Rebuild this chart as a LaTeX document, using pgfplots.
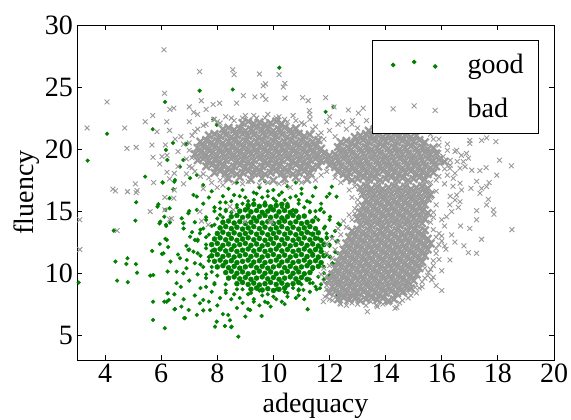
\documentclass[border=0pt]{standalone}
\usepackage{fontspec}
\setmainfont{Liberation Serif}
\usepackage{pgfplots}
\pgfplotsset{compat=1.18}
\definecolor{goodc}{RGB}{0,128,0}
\definecolor{badc}{RGB}{153,153,153}
\pgfplotsset{threemarks/.style={legend image code/.code={\draw[##1, only marks] plot coordinates {(0pt,0pt) (21pt,3pt) (42pt,-1.5pt)}; \path (-8pt,0pt) (71pt,0pt);}}}
\begin{document}
\begin{tikzpicture}
\begin{axis}[
  name=ax,
  scale only axis, width=477pt, height=335pt,
  xmin=3, xmax=20, ymin=3, ymax=30,
  xtick={4,6,...,20}, ytick={5,10,...,30},
  tick align=inside, major tick length=5pt,
  axis line style={line width=0.8pt},
  every tick/.style={black, line width=0.8pt},
  /pgf/number format/assume math mode=true,
  tick label style={font=\fontsize{28}{30}\selectfont},
  xticklabel style={anchor=base, yshift=-23pt},
  yticklabel style={anchor=east, inner xsep=0pt, xshift=-4pt},
  label style={font=\fontsize{28}{30}\selectfont},
  xlabel={adequacy}, ylabel={fluency},
  xlabel style={at={(axis description cs:0.5,-0.158)}, anchor=base},
  ylabel style={at={(axis description cs:-0.0922,0.5)}, anchor=base},
  legend style={at={(0.9686,0.955)}, anchor=north east, draw=black, line width=0.8pt,
    inner xsep=12pt, inner ysep=11pt, row sep=17pt,
    font=\fontsize{28}{30}\selectfont, nodes={inner sep=3pt}},
  legend cell align=left,
]
% good: dense core
\addplot[only marks, mark=*, mark size=2.5pt, color=goodc, forget plot] coordinates {
(9.2,8.7) (9.4,8.8) (9.6,8.64) (9.8,8.75) (10.0,8.6) (10.2,8.7) (10.4,8.8)
(8.7,9.15) (8.9,9.25) (9.1,9.09) (9.3,9.2) (9.5,9.05) (9.7,9.15) (9.9,9.25) (10.1,9.09) (10.3,9.2) (10.5,9.05) (10.7,9.15) (10.9,9.25)
(8.4,9.6) (8.6,9.7) (8.8,9.54) (9.0,9.65) (9.2,9.5) (9.4,9.6) (9.6,9.7) (9.8,9.54) (10.0,9.65) (10.2,9.5) (10.4,9.6) (10.6,9.7) (10.8,9.54) (11.0,9.65) (11.2,9.5)
(8.3,10.05) (8.5,10.15) (8.7,9.99) (8.9,10.1) (9.1,9.95) (9.3,10.05) (9.5,10.15) (9.7,9.99) (9.9,10.1) (10.1,9.95) (10.3,10.05) (10.5,10.15) (10.7,9.99) (10.9,10.1) (11.1,9.95) (11.3,10.05)
(8.0,10.5) (8.2,10.6) (8.4,10.44) (8.6,10.55) (8.8,10.4) (9.0,10.5) (9.2,10.6) (9.4,10.44) (9.6,10.55) (9.8,10.4) (10.0,10.5) (10.2,10.6) (10.4,10.44) (10.6,10.55) (10.8,10.4) (11.0,10.5) (11.2,10.6) (11.4,10.44) (11.6,10.55)
(7.9,10.95) (8.1,11.05) (8.3,10.89) (8.5,11.0) (8.7,10.85) (8.9,10.95) (9.1,11.05) (9.3,10.89) (9.5,11.0) (9.7,10.85) (9.9,10.95) (10.1,11.05) (10.3,10.89) (10.5,11.0) (10.7,10.85) (10.9,10.95) (11.1,11.05) (11.3,10.89) (11.5,11.0) (11.7,10.85)
(7.8,11.4) (8.0,11.5) (8.2,11.34) (8.4,11.45) (8.6,11.3) (8.8,11.4) (9.0,11.5) (9.2,11.34) (9.4,11.45) (9.6,11.3) (9.8,11.4) (10.0,11.5) (10.2,11.34) (10.4,11.45) (10.6,11.3) (10.8,11.4) (11.0,11.5) (11.2,11.34) (11.4,11.45) (11.6,11.3) (11.8,11.4)
(7.9,11.85) (8.1,11.95) (8.3,11.79) (8.5,11.9) (8.7,11.75) (8.9,11.85) (9.1,11.95) (9.3,11.79) (9.5,11.9) (9.7,11.75) (9.9,11.85) (10.1,11.95) (10.3,11.79) (10.5,11.9) (10.7,11.75) (10.9,11.85) (11.1,11.95) (11.3,11.79) (11.5,11.9) (11.7,11.75)
(7.8,12.3) (8.0,12.4) (8.2,12.24) (8.4,12.35) (8.6,12.2) (8.8,12.3) (9.0,12.4) (9.2,12.24) (9.4,12.35) (9.6,12.2) (9.8,12.3) (10.0,12.4) (10.2,12.24) (10.4,12.35) (10.6,12.2) (10.8,12.3) (11.0,12.4) (11.2,12.24) (11.4,12.35) (11.6,12.2) (11.8,12.3)
(7.9,12.75) (8.1,12.85) (8.3,12.69) (8.5,12.8) (8.7,12.65) (8.9,12.75) (9.1,12.85) (9.3,12.69) (9.5,12.8) (9.7,12.65) (9.9,12.75) (10.1,12.85) (10.3,12.69) (10.5,12.8) (10.7,12.65) (10.9,12.75) (11.1,12.85) (11.3,12.69) (11.5,12.8) (11.7,12.65)
(8.0,13.2) (8.2,13.3) (8.4,13.14) (8.6,13.25) (8.8,13.1) (9.0,13.2) (9.2,13.3) (9.4,13.14) (9.6,13.25) (9.8,13.1) (10.0,13.2) (10.2,13.3) (10.4,13.14) (10.6,13.25) (10.8,13.1) (11.0,13.2) (11.2,13.3) (11.4,13.14) (11.6,13.25)
(8.1,13.65) (8.3,13.75) (8.5,13.59) (8.7,13.7) (8.9,13.55) (9.1,13.65) (9.3,13.75) (9.5,13.59) (9.7,13.7) (9.9,13.55) (10.1,13.65) (10.3,13.75) (10.5,13.59) (10.7,13.7) (10.9,13.55) (11.1,13.65) (11.3,13.75) (11.5,13.59)
(8.2,14.1) (8.4,14.2) (8.6,14.04) (8.8,14.15) (9.0,14.0) (9.2,14.1) (9.4,14.2) (9.6,14.04) (9.8,14.15) (10.0,14.0) (10.2,14.1) (10.4,14.2) (10.6,14.04) (10.8,14.15) (11.0,14.0) (11.2,14.1) (11.4,14.2)
(8.5,14.55) (8.7,14.65) (8.9,14.49) (9.1,14.6) (9.3,14.45) (9.5,14.55) (9.7,14.65) (9.9,14.49) (10.1,14.6) (10.3,14.45) (10.5,14.55) (10.7,14.65) (10.9,14.49) (11.1,14.6)
(8.8,15.0) (9.0,15.1) (9.2,14.94) (9.4,15.05) (9.6,14.9) (9.8,15.0) (10.0,15.1) (10.2,14.94) (10.4,15.05) (10.6,14.9) (10.8,15.0)
(9.1,15.45) (9.3,15.55) (9.5,15.39) (9.7,15.5) (9.9,15.35) (10.1,15.45) (10.3,15.55) (10.5,15.39)
};
% good: scattered points
\addplot[only marks, mark=*, mark size=1.9pt, color=goodc, threemarks] coordinates {
(3.06,9.24) (3.38,19.07) (4.07,21.24) (5.7,21.6) (6.14,23.8) (7.37,24.7) (8.55,24.8) (10.21,26.56) (11.86,23.0) (12.14,23.4) (6.42,20.5) (6.86,20.4)
(5.43,17.78) (6.06,17.3) (6.47,17.37) (5.11,15.71) (5.87,15.36) (6.3,16.04) (6.3,15.23) (6.15,15.1) (6.11,14.55) (5.97,14.15) (6.18,13.8) (5.08,14.23) (4.31,13.43) (6.15,12.76) (5.95,12.35) (5.68,11.79) (4.8,11.2)
(4.37,10.93) (4.76,10.74) (5.1,10.72) (5.14,10.04) (4.43,9.4) (4.81,9.27) (5.61,9.8) (6.03,11.55) (5.71,7.7) (5.71,6.23) (6.13,5.56) (6.23,8.38) (6.11,7.7) (6.27,7.84) (6.47,8.3) (6.48,7.09) (6.82,6.37) (6.72,7.3) (6.98,7.03) (6.8,7.9) (6.33,10.93) (6.23,10.13) (6.08,11.6) (6.25,12.1) (5.94,14.0) (6.17,13.9) (6.31,14.07) (5.9,15.55)
(8.75,4.88) (9.58,6.55) (11.22,7.09) (8.45,6.2) (8.27,5.74) (8.5,5.64)
(12.31,14.0) (12.37,13.88) (12.02,14.55) (12.31,9.3) (12.28,8.24) (11.66,8.78) (11.54,8.7)
(6.91,20.4) (7.86,22.4) (7.98,21.94) (6.17,19.93) (6.22,19.12) (6.05,17.32) (6.49,17.5) (6.43,16.76) (6.73,14.42) (6.79,14.02) (6.97,14.83) (7.15,16.3) (7.27,16.17) (7.27,15.1)
(6.79,19.12) (6.67,18.58) (7.27,17.91) (7.03,17.65) (7.5,17.1) (6.2,12.68) (5.72,9.85) (6.2,7.7) (6.49,7.11) (6.55,9.19) (6.55,10.12) (6.79,9.99) (6.91,11.06) (6.67,11.2) (6.97,11.87) (7.15,11.73) (7.2,12.67) (7.03,12.94) (7.38,13.21)
(6.85,6.37) (7.27,6.63) (7.38,7.57) (7.5,7.84) (7.74,7.03) (7.98,6.09) (7.92,5.69) (8.51,5.69) (8.39,6.63) (9.17,7.03) (11.07,8.65)
(12.25,16.16) (12.25,12.54) (11.78,10.52) (11.9,9.18) (12.25,8.1) (11.9,16.16) (12.08,16.97) (11.66,15.1) (11.84,13.75) (12.08,12.94) (12.02,11.33)
(7.9,9.2) (7.6,9.6) (7.8,10.1) (7.5,10.5) (7.7,11.0) (7.4,11.4) (7.8,11.8) (7.6,12.3) (7.3,12.7) (7.7,13.1) (7.5,13.6) (7.9,13.9) (7.2,14.1) (7.6,14.5) (8.1,14.7) (7.2,10.8) (7.0,11.9) (7.3,9.9) (7.1,13.3) (6.9,12.2) (7.0,9.4) (7.4,8.8) (7.8,8.5) (7.2,8.2) (6.9,10.4) (6.8,13.6) (6.6,11.5) (6.7,8.9) (7.5,15.6) (7.0,15.0)
(8.3,8.6) (8.6,8.3) (8.9,8.7) (9.2,8.4) (9.5,8.6) (9.8,8.3) (10.1,8.7) (10.4,8.5) (10.7,8.8) (8.5,7.9) (8.9,7.6) (9.3,7.9) (9.7,7.7) (10.1,7.9) (10.5,8.1) (8.1,8.0) (8.7,7.2) (9.1,7.1) (9.9,7.3) (10.4,7.5) (8.0,7.4) (7.7,7.7) (9.5,7.4) (10.9,8.2) (8.2,6.7) (9.0,6.5) (7.5,7.0)
(11.0,9.1) (11.3,9.5) (11.1,9.9) (11.4,10.3) (11.3,10.8) (11.6,11.2) (11.4,11.6) (11.7,12.0) (11.4,12.4) (11.6,12.8) (11.3,13.2) (11.5,13.6) (11.2,14.0) (11.6,14.3) (11.9,13.2) (11.9,11.5) (11.8,10.0) (12.0,12.3) (11.8,9.5) (11.5,8.9) (12.1,10.8) (10.9,8.6) (11.1,7.9) (12.2,11.7)
(7.9,15.3) (8.3,15.1) (8.7,15.3) (9.1,15.2) (9.5,15.4) (9.9,15.2) (10.3,15.3) (10.7,15.1) (11.1,15.3) (11.5,15.0) (11.8,14.9) (8.1,15.7) (8.5,15.8) (8.9,15.6) (9.3,15.9) (9.7,15.7) (10.1,15.8) (10.5,15.6) (10.9,15.9) (11.3,15.7) (11.7,15.6)
(8.2,16.2) (8.6,16.3) (9.0,16.1) (9.4,16.4) (9.8,16.2) (10.2,16.3) (10.6,16.1) (11.0,16.4) (11.4,16.2) (7.7,16.1) (8.4,16.8) (8.9,16.7) (9.5,16.9) (10.0,16.7) (10.5,17.0) (11.0,16.8) (11.5,16.9) (8.7,17.3) (9.7,17.4) (10.8,17.3) (7.8,16.6) (12.0,16.4)
(8.2,14.5) (10.9,14.6) (8.5,14.9) (10.6,14.95) (11.3,14.9) (8.1,15.2) (11.9,12.8) (12.1,9.9) (7.6,8.9) (11.4,9.2)
(12.0,12.2) (11.9,12.9) (11.8,13.6) (11.5,14.5) (11.3,15.0) (10.9,15.6) (10.4,15.9) (10.0,16.0) (9.6,16.1) (9.1,15.8) (8.7,15.5) (8.3,15.0) (8.0,14.4) (7.8,13.8) (7.6,12.9) (7.6,12.0) (7.7,11.3) (7.8,10.5) (8.0,9.8) (8.3,9.1) (8.7,8.7) (9.1,8.3) (9.6,8.2) (10.0,8.1) (10.5,8.4) (10.9,8.7) (11.3,9.2) (11.6,9.7) (11.8,10.5) (12.0,11.3)
(12.3,12.6) (12.2,13.4) (12.0,14.3) (11.7,15.2) (11.2,15.8) (10.8,16.2) (10.3,16.5) (9.8,16.6) (9.3,16.5) (8.8,16.2) (8.3,15.7) (7.9,15.0) (7.6,14.3) (7.4,13.5) (7.3,12.6) (7.3,11.6) (7.4,10.7) (7.6,9.9) (7.9,9.1) (8.3,8.4) (8.8,8.0) (9.3,7.7) (9.8,7.6) (10.3,7.7) (10.8,8.0) (11.3,8.5) (11.7,9.1) (12.0,9.8) (12.2,10.7) (12.3,11.6)
};
\addlegendentry{good}
% bad: dense cores
\addplot[only marks, mark=x, mark size=5.2pt, line width=2.3pt, color=badc, forget plot] coordinates {
(8.4,17.6) (8.8,17.72) (9.2,17.54) (9.6,17.66) (10.0,17.48) (10.4,17.6) (10.8,17.72) (11.2,17.54)
(12.6,17.66) (12.8,17.48) (13.0,17.6) (13.2,17.72) (13.4,17.54) (13.6,17.66) (13.8,17.48) (14.0,17.6) (14.2,17.72) (14.4,17.54) (14.6,17.66) (14.8,17.48) (15.0,17.6) (15.2,17.72) (15.4,17.54)
(7.9,18.1) (8.1,18.22) (8.3,18.04) (8.5,18.16) (8.7,17.98) (8.9,18.1) (9.1,18.22) (9.3,18.04) (9.5,18.16) (9.7,17.98) (9.9,18.1) (10.1,18.22) (10.3,18.04) (10.5,18.16) (10.7,17.98) (10.9,18.1) (11.1,18.22) (11.3,18.04)
(12.3,18.16) (12.5,17.98) (12.7,18.1) (12.9,18.22) (13.1,18.04) (13.3,18.16) (13.5,17.98) (13.7,18.1) (13.9,18.22) (14.1,18.04) (14.3,18.16) (14.5,17.98) (14.7,18.1) (14.9,18.22) (15.1,18.04) (15.3,18.16) (15.5,17.98) (15.7,18.1)
(7.6,18.6) (7.8,18.72) (8.0,18.54) (8.2,18.66) (8.4,18.48) (8.6,18.6) (8.8,18.72) (9.0,18.54) (9.2,18.66) (9.4,18.48) (9.6,18.6) (9.8,18.72) (10.0,18.54) (10.2,18.66) (10.4,18.48) (10.6,18.6) (10.8,18.72) (11.0,18.54) (11.2,18.66) (11.4,18.48) (11.6,18.6) (12.0,18.72) (12.2,18.54) (12.4,18.66) (12.6,18.48) (12.8,18.6) (13.0,18.72) (13.2,18.54) (13.4,18.66) (13.6,18.48) (13.8,18.6) (14.0,18.72) (14.2,18.54) (14.4,18.66) (14.6,18.48) (14.8,18.6) (15.0,18.72) (15.2,18.54) (15.4,18.66) (15.6,18.48) (15.8,18.6)
(7.3,19.1) (7.5,19.22) (7.7,19.04) (7.9,19.16) (8.1,18.98) (8.3,19.1) (8.5,19.22) (8.7,19.04) (8.9,19.16) (9.1,18.98) (9.3,19.1) (9.5,19.22) (9.7,19.04) (9.9,19.16) (10.1,18.98) (10.3,19.1) (10.5,19.22) (10.7,19.04) (10.9,19.16) (11.1,18.98) (11.3,19.1) (11.5,19.22) (11.7,19.04) (11.9,19.16) (12.1,18.98) (12.3,19.1) (12.5,19.22) (12.7,19.04) (12.9,19.16) (13.1,18.98) (13.3,19.1) (13.5,19.22) (13.7,19.04) (13.9,19.16) (14.1,18.98) (14.3,19.1) (14.5,19.22) (14.7,19.04) (14.9,19.16) (15.1,18.98) (15.3,19.1) (15.5,19.22) (15.7,19.04) (15.9,19.16) (16.1,18.98)
(7.2,19.6) (7.4,19.72) (7.6,19.54) (7.8,19.66) (8.0,19.48) (8.2,19.6) (8.4,19.72) (8.6,19.54) (8.8,19.66) (9.0,19.48) (9.2,19.6) (9.4,19.72) (9.6,19.54) (9.8,19.66) (10.0,19.48) (10.2,19.6) (10.4,19.72) (10.6,19.54) (10.8,19.66) (11.0,19.48) (11.2,19.6) (11.4,19.72) (11.6,19.54) (11.8,19.66) (12.0,19.48) (12.2,19.6) (12.4,19.72) (12.6,19.54) (12.8,19.66) (13.0,19.48) (13.2,19.6) (13.4,19.72) (13.6,19.54) (13.8,19.66) (14.0,19.48) (14.2,19.6) (14.4,19.72) (14.6,19.54) (14.8,19.66) (15.0,19.48) (15.2,19.6) (15.4,19.72) (15.6,19.54) (15.8,19.66)
(7.3,20.1) (7.5,20.22) (7.7,20.04) (7.9,20.16) (8.1,19.98) (8.3,20.1) (8.5,20.22) (8.7,20.04) (8.9,20.16) (9.1,19.98) (9.3,20.1) (9.5,20.22) (9.7,20.04) (9.9,20.16) (10.1,19.98) (10.3,20.1) (10.5,20.22) (10.7,20.04) (10.9,20.16) (11.1,19.98) (11.3,20.1) (11.5,20.22) (11.7,20.04)
(12.3,20.16) (12.5,19.98) (12.7,20.1) (12.9,20.22) (13.1,20.04) (13.3,20.16) (13.5,19.98) (13.7,20.1) (13.9,20.22) (14.1,20.04) (14.3,20.16) (14.5,19.98) (14.7,20.1) (14.9,20.22) (15.1,20.04) (15.3,20.16) (15.5,19.98) (15.7,20.1)
(7.4,20.6) (7.6,20.72) (7.8,20.54) (8.0,20.66) (8.2,20.48) (8.4,20.6) (8.6,20.72) (8.8,20.54) (9.0,20.66) (9.2,20.48) (9.4,20.6) (9.6,20.72) (9.8,20.54) (10.0,20.66) (10.2,20.48) (10.4,20.6) (10.6,20.72) (10.8,20.54) (11.0,20.66) (11.2,20.48) (11.4,20.6) (11.6,20.72)
(12.4,20.54) (12.6,20.66) (12.8,20.48) (13.0,20.6) (13.2,20.72) (13.4,20.54) (13.6,20.66) (13.8,20.48) (14.0,20.6) (14.2,20.72) (14.4,20.54) (14.6,20.66) (14.8,20.48) (15.0,20.6) (15.2,20.72) (15.4,20.54)
(7.7,21.1) (7.9,21.22) (8.1,21.04) (8.3,21.16) (8.5,20.98) (8.7,21.1) (8.9,21.22) (9.1,21.04) (9.3,21.16) (9.5,20.98) (9.7,21.1) (9.9,21.22) (10.1,21.04) (10.3,21.16) (10.5,20.98) (10.7,21.1) (10.9,21.22) (11.1,21.04) (11.3,21.16)
(12.9,20.98) (13.1,21.1) (13.3,21.22) (13.5,21.04) (13.7,21.16) (13.9,20.98) (14.1,21.1) (14.3,21.22) (14.5,21.04) (14.7,21.16) (14.9,20.98) (15.1,21.1)
(8.2,21.6) (8.4,21.72) (8.6,21.54) (8.8,21.66) (9.0,21.48) (9.2,21.6) (9.4,21.72) (9.6,21.54) (9.8,21.66) (10.0,21.48) (10.2,21.6) (10.4,21.72) (10.6,21.54) (10.8,21.66)
(13.4,21.48) (13.6,21.6) (13.8,21.72) (14.0,21.54) (14.2,21.66) (14.4,21.48) (14.6,21.6) (14.8,21.72)
(8.9,22.1) (9.1,22.22) (9.3,22.04) (9.5,22.16) (9.7,21.98) (9.9,22.1) (10.1,22.22) (10.3,22.04)
(12.3,7.9) (12.5,8.02) (12.7,7.84) (12.9,7.96) (13.1,7.78) (13.3,7.9) (13.5,8.02) (13.7,7.84) (13.9,7.96) (14.1,7.78) (14.3,7.9)
(12.0,8.4) (12.2,8.52) (12.4,8.34) (12.6,8.46) (12.8,8.28) (13.0,8.4) (13.2,8.52) (13.4,8.34) (13.6,8.46) (13.8,8.28) (14.0,8.4) (14.2,8.52) (14.4,8.34) (14.6,8.46)
(12.1,8.9) (12.3,9.02) (12.5,8.84) (12.7,8.96) (12.9,8.78) (13.1,8.9) (13.3,9.02) (13.5,8.84) (13.7,8.96) (13.9,8.78) (14.1,8.9) (14.3,9.02) (14.5,8.84) (14.7,8.96) (14.9,8.78)
(12.0,9.4) (12.2,9.52) (12.4,9.34) (12.6,9.46) (12.8,9.28) (13.0,9.4) (13.2,9.52) (13.4,9.34) (13.6,9.46) (13.8,9.28) (14.0,9.4) (14.2,9.52) (14.4,9.34) (14.6,9.46) (14.8,9.28) (15.0,9.4)
(12.1,9.9) (12.3,10.02) (12.5,9.84) (12.7,9.96) (12.9,9.78) (13.1,9.9) (13.3,10.02) (13.5,9.84) (13.7,9.96) (13.9,9.78) (14.1,9.9) (14.3,10.02) (14.5,9.84) (14.7,9.96) (14.9,9.78) (15.1,9.9)
(12.2,10.4) (12.4,10.52) (12.6,10.34) (12.8,10.46) (13.0,10.28) (13.2,10.4) (13.4,10.52) (13.6,10.34) (13.8,10.46) (14.0,10.28) (14.2,10.4) (14.4,10.52) (14.6,10.34) (14.8,10.46) (15.0,10.28) (15.2,10.4)
(12.3,10.9) (12.5,11.02) (12.7,10.84) (12.9,10.96) (13.1,10.78) (13.3,10.9) (13.5,11.02) (13.7,10.84) (13.9,10.96) (14.1,10.78) (14.3,10.9) (14.5,11.02) (14.7,10.84) (14.9,10.96) (15.1,10.78) (15.3,10.9)
(12.4,11.4) (12.6,11.52) (12.8,11.34) (13.0,11.46) (13.2,11.28) (13.4,11.4) (13.6,11.52) (13.8,11.34) (14.0,11.46) (14.2,11.28) (14.4,11.4) (14.6,11.52) (14.8,11.34) (15.0,11.46) (15.2,11.28) (15.4,11.4)
(12.5,11.9) (12.7,12.02) (12.9,11.84) (13.1,11.96) (13.3,11.78) (13.5,11.9) (13.7,12.02) (13.9,11.84) (14.1,11.96) (14.3,11.78) (14.5,11.9) (14.7,12.02) (14.9,11.84) (15.1,11.96) (15.3,11.78) (15.5,11.9)
(12.6,12.4) (12.8,12.52) (13.0,12.34) (13.2,12.46) (13.4,12.28) (13.6,12.4) (13.8,12.52) (14.0,12.34) (14.2,12.46) (14.4,12.28) (14.6,12.4) (14.8,12.52) (15.0,12.34) (15.2,12.46) (15.4,12.28) (15.6,12.4)
(12.7,12.9) (12.9,13.02) (13.1,12.84) (13.3,12.96) (13.5,12.78) (13.7,12.9) (13.9,13.02) (14.1,12.84) (14.3,12.96) (14.5,12.78) (14.7,12.9) (14.9,13.02) (15.1,12.84) (15.3,12.96) (15.5,12.78)
(12.8,13.4) (13.0,13.52) (13.2,13.34) (13.4,13.46) (13.6,13.28) (13.8,13.4) (14.0,13.52) (14.2,13.34) (14.4,13.46) (14.6,13.28) (14.8,13.4) (15.0,13.52) (15.2,13.34) (15.4,13.46)
(13.1,13.9) (13.3,14.02) (13.5,13.84) (13.7,13.96) (13.9,13.78) (14.1,13.9) (14.3,14.02) (14.5,13.84) (14.7,13.96) (14.9,13.78) (15.1,13.9) (15.3,14.02)
(13.0,14.4) (13.2,14.52) (13.4,14.34) (13.6,14.46) (13.8,14.28) (14.0,14.4) (14.2,14.52) (14.4,14.34) (14.6,14.46) (14.8,14.28) (15.0,14.4) (15.2,14.52) (15.4,14.34)
(13.1,14.9) (13.3,15.02) (13.5,14.84) (13.7,14.96) (13.9,14.78) (14.1,14.9) (14.3,15.02) (14.5,14.84) (14.7,14.96) (14.9,14.78) (15.1,14.9) (15.3,15.02) (15.5,14.84)
(13.2,15.4) (13.4,15.52) (13.6,15.34) (13.8,15.46) (14.0,15.28) (14.2,15.4) (14.4,15.52) (14.6,15.34) (14.8,15.46) (15.0,15.28) (15.2,15.4) (15.4,15.52)
(13.3,15.9) (13.5,16.02) (13.7,15.84) (13.9,15.96) (14.1,15.78) (14.3,15.9) (14.5,16.02) (14.7,15.84) (14.9,15.96) (15.1,15.78) (15.3,15.9) (15.5,16.02)
(13.2,16.4) (13.4,16.52) (13.6,16.34) (13.8,16.46) (14.0,16.28) (14.2,16.4) (14.4,16.52) (14.6,16.34) (14.8,16.46) (15.0,16.28) (15.2,16.4) (15.4,16.52) (15.6,16.34)
(13.1,16.9) (13.3,17.02) (13.5,16.84) (13.7,16.96) (13.9,16.78) (14.1,16.9) (14.3,17.02) (14.5,16.84) (14.7,16.96) (14.9,16.78) (15.1,16.9) (15.3,17.02) (15.5,16.84)
};
% bad: scattered points
\addplot[only marks, mark=x, mark size=3.4pt, line width=0.9pt, color=badc, threemarks] coordinates {
(6.1,28.0) (7.37,26.24) (8.55,26.4) (8.6,26.0) (4.07,23.8) (6.12,24.5) (3.36,21.7) (4.7,21.7) (5.43,22.2) (5.7,22.7) (5.85,21.4) (6.45,23.3) (6.2,22.2) (7.0,23.4) (7.16,22.96) (7.43,23.9) (7.85,23.6) (8.08,23.7) (7.6,23.2) (7.87,22.4) (6.31,23.2)
(9.5,26.05) (10.2,26.0) (9.64,25.1) (9.72,25.25) (10.35,25.0) (10.41,25.3) (8.93,24.3) (9.34,24.2) (9.62,24.3) (9.73,24.0) (10.41,24.1) (11.04,24.14) (11.24,23.9) (11.86,24.14) (12.16,23.4) (12.67,23.15) (13.03,22.9) (13.2,23.3) (8.69,23.7) (11.28,23.1) (11.3,22.8) (12.0,22.6) (11.9,22.2) (12.47,22.2) (12.82,22.3) (13.32,22.3)
(17.0,20.7) (17.42,20.7) (17.6,20.9) (17.93,20.6) (17.0,20.45) (16.53,19.9) (16.7,19.5) (16.88,19.65) (18.06,19.1) (18.48,18.65) (17.36,18.26) (17.58,18.5) (17.96,17.9) (17.42,16.84) (17.6,16.97) (17.36,16.44) (16.83,18.58) (17.07,18.3) (16.41,17.65) (16.65,17.25) (16.05,19.4) (16.3,19.1)
(17.69,17.3) (17.04,16.84) (16.7,16.7) (17.24,17.4) (17.66,15.95) (17.6,15.5) (17.84,15.1) (17.86,14.75) (17.24,15.04) (17.24,14.3) (16.67,13.8) (17.0,13.6) (18.5,13.5) (16.95,19.26) (16.77,18.99) (16.55,19.0) (16.47,19.8) (16.65,18.45) (16.47,18.05) (16.29,18.45) (16.53,16.3) (16.47,15.9) (16.29,15.5) (16.35,14.96) (16.17,14.55) (16.0,14.3) (16.65,15.76) (16.59,15.3)
(17.42,12.73) (17.24,11.6) (16.95,11.65) (16.79,12.2) (16.29,11.06) (16.35,13.08) (16.47,12.5) (16.0,8.6) (16.15,11.93) (15.7,9.67) (15.64,9.45) (15.52,10.04) (15.4,10.4) (15.05,8.86) (14.87,8.6) (14.69,8.43) (14.4,7.25) (14.33,7.17) (13.35,6.9) (13.68,7.44) (13.47,7.7) (13.06,7.98) (13.15,8.25) (12.9,8.33) (12.7,8.1) (12.37,7.57) (12.35,8.1) (12.55,8.24) (11.78,7.7) (11.84,8.1) (11.99,8.43) (12.14,9.45) (12.2,10.1)
(4.78,20.06) (5.11,20.14) (3.1,14.3) (3.1,11.9) (4.43,13.43) (4.28,16.77) (4.37,16.63) (4.8,16.57) (5.08,17.19) (5.14,16.65) (5.11,16.49) (5.61,14.96) (5.73,17.3) (5.71,19.34) (5.95,18.8) (6.03,19.4) (6.21,19.5) (6.21,18.13) (6.47,18.05) (6.47,16.7) (6.45,16.04) (6.13,16.11) (6.13,15.1) (6.3,14.34) (5.67,20.33) (6.15,20.33)
(6.37,14.4) (7.38,14.96) (7.44,14.2) (7.68,13.9) (8.45,15.36) (8.57,15.1) (8.99,14.15) (9.88,14.1) (9.94,14.15)
(6.6,19.8) (6.8,20.4) (6.9,19.2) (7.0,18.6) (7.1,21.1) (6.7,21.0) (7.2,18.2) (7.4,17.8) (6.9,18.0) (7.3,21.6) (7.6,22.0) (7.9,22.4) (8.3,22.6) (8.1,22.1) (8.6,22.3) (9.0,22.7) (9.4,22.5) (9.8,22.8) (10.2,22.6) (10.5,22.2) (10.7,22.7) (11.0,22.1) (11.3,22.4) (11.5,21.8) (11.7,21.3) (11.8,20.8) (12.0,21.5) (12.2,21.0) (12.6,21.6) (12.3,22.0) (12.8,22.0) (13.0,21.7)
(7.8,17.3) (8.2,17.1) (8.0,16.9) (8.9,17.2) (9.5,17.1) (10.2,17.2) (10.6,16.9) (11.0,17.3) (11.5,17.5) (11.7,17.9) (11.9,18.2) (7.5,16.8) (6.8,17.2) (6.3,17.6) (6.6,18.6) (6.5,20.8) (7.0,22.2) (7.3,22.8) (6.3,21.5)
(15.9,20.3) (16.1,18.4) (15.9,17.8) (16.2,19.9) (15.7,20.8) (15.6,17.3) (15.8,16.6) (15.6,16.1) (15.4,15.5) (15.7,14.9) (15.9,13.2) (15.8,12.0) (15.9,11.1) (15.7,10.6) (15.5,9.8) (15.3,9.3) (15.2,8.8) (14.9,8.2) (14.6,7.8) (14.1,7.6) (13.7,7.3) (13.0,7.5) (12.6,7.4) (12.0,7.9) (11.9,9.0) (11.8,10.4) (11.9,11.6) (12.1,12.8) (12.3,13.6) (12.5,14.2) (12.7,14.7) (12.9,15.2) (13.0,15.9) (13.1,16.5) (12.9,17.0) (12.4,17.3) (12.2,17.7) (16.1,13.8) (16.0,12.6) (16.3,16.2) (16.4,17.0) (16.2,17.9) (15.8,15.5) (16.0,10.2) (15.8,9.0)
(11.9,8.7) (11.8,9.3) (11.9,9.8) (12.0,10.6) (12.1,11.2) (12.2,11.9) (12.3,12.5) (12.4,13.1) (12.6,13.7) (12.8,14.3) (12.9,14.8) (13.0,15.5) (12.8,16.1) (12.7,16.7) (11.7,9.9) (11.9,12.4)
(12.4,7.5) (12.8,7.6) (13.3,7.4) (13.9,7.5) (14.5,7.6) (14.8,8.0) (15.1,8.4) (12.1,7.8)
(15.7,11.0) (15.8,11.6) (15.9,12.3) (15.8,12.9) (15.7,13.5) (15.6,14.1) (15.7,14.5) (15.3,8.9) (15.4,9.6) (15.6,10.3) (16.1,12.2) (16.0,13.0)
(15.9,19.7) (16.0,18.9) (15.9,20.8) (15.6,21.2) (15.3,21.5) (15.8,17.5) (16.1,17.2) (16.3,18.7) (16.2,20.4)
(7.0,19.9) (7.0,20.5) (7.1,19.3) (7.2,21.4) (7.5,21.9) (8.0,22.2) (8.5,22.5) (8.9,22.5) (9.3,22.7) (9.7,22.5) (10.1,22.5) (10.4,22.4) (10.8,22.3) (11.1,22.0) (11.4,21.6) (11.6,21.1) (7.1,18.5) (7.5,18.0) (7.7,17.7) (8.1,17.5)
(8.6,17.3) (9.1,17.4) (9.8,17.3) (10.4,17.3) (10.9,17.5) (11.4,17.9) (8.3,17.6)
};
\addlegendentry{bad}
\end{axis}
\pgfresetboundingbox
\path ([shift={(-77pt,-60pt)}]ax.south west) rectangle ([shift={(17pt,25pt)}]ax.north east);
\end{tikzpicture}
\end{document}
